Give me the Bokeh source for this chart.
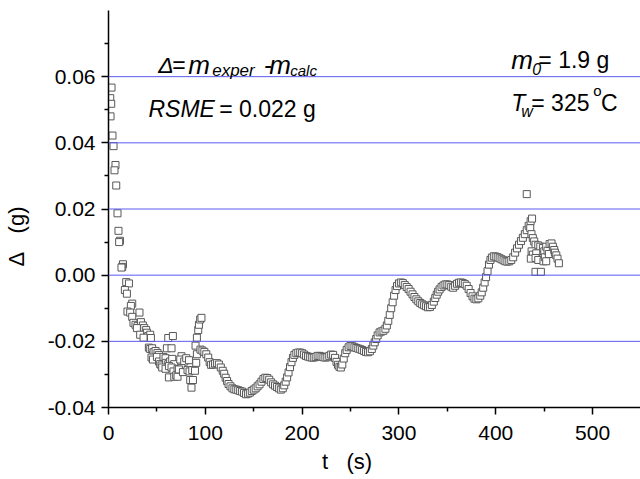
from bokeh.plotting import figure
from bokeh.models import Range1d, FixedTicker, PrintfTickFormatter, Label, ColumnDataSource, Span
from bokeh.embed import file_html
from bokeh.resources import INLINE

# ---- data ----
t_early = [3.1, 1.8, 2.8, 2.1, 4.1, 5.2, 7.2, 6.2, 8.0, 9.3, 10.3, 11.8, 11.0, 14.9, 14.2, 13.4,
           18.3, 21.1, 16.9, 19.0, 24.5, 23.1, 19.6, 22.4, 32.0, 24.5, 25.8, 27.9, 30.0, 33.5,
           35.5, 36.9, 38.9, 39.7, 41.0, 43.1, 43.8, 29.3, 32.7, 36.2]
d_early = [0.0567, 0.0535, 0.0518, 0.0480, 0.0422, 0.0390, 0.0333, 0.0317, 0.0271, 0.0187,
           0.0134, 0.0104, 0.0100, 0.0033, 0.0025, 0.0023, -0.0021, -0.0025, -0.0045, -0.0056,
           -0.0086, -0.0093, -0.0110, -0.0113, -0.0113, -0.0126, -0.0144, -0.0150, -0.0154,
           -0.0142, -0.0152, -0.0160, -0.0166, -0.0174, -0.0184, -0.0180, -0.0190, -0.0160,
           -0.0180, -0.0189]

t_mid = [41.7, 43.1, 45.1, 46.5, 48.6, 50.6, 52.1, 44.4, 45.9, 50.0, 52.1, 53.4, 54.8, 56.8,
         58.9, 60.3, 61.7, 66.5, 65.1, 59.6, 61.7, 63.7, 65.8, 67.9, 55.5, 58.9, 62.4, 65.1,
         67.1, 71.3, 62.4, 67.9, 69.9, 71.3, 75.4, 74.1, 78.2, 80.3, 83.1, 75.4, 72.7, 76.9,
         81.6, 83.7, 86.5, 84.4, 87.2, 85.7, 89.3, 90.6, 91.3, 89.9, 91.3, 92.7, 93.4, 94.7, 96.0]
d_mid = [-0.0219, -0.0223, -0.0221, -0.0233, -0.0229, -0.0235, -0.0241, -0.0249, -0.0255,
         -0.0247, -0.0261, -0.0269, -0.0273, -0.0247, -0.0251, -0.0221, -0.0190, -0.0184,
         -0.0221, -0.0265, -0.0269, -0.0261, -0.0253, -0.0269, -0.0279, -0.0283, -0.0275,
         -0.0279, -0.0291, -0.0283, -0.0309, -0.0307, -0.0303, -0.0307, -0.0245, -0.0255,
         -0.0261, -0.0251, -0.0257, -0.0281, -0.0285, -0.0293, -0.0287, -0.0291, -0.0287,
         -0.0317, -0.0317, -0.0340, -0.0289, -0.0265, -0.0239, -0.0213, -0.0189, -0.0166,
         -0.0150, -0.0134, -0.0129]

t_main = [95, 97, 99, 101, 103, 104.5, 106, 108, 110, 112, 114, 116, 118, 119.5, 121, 122.5,
          124, 126, 128, 130, 132, 134, 136, 138, 140, 142, 144, 146, 148, 150, 152, 154, 156,
          158, 160, 162, 164, 166, 168, 170, 172, 174, 176, 178, 180, 181.5, 183, 184.5, 186,
          187.5, 189, 190.5, 192, 194, 196, 198, 200, 202, 204, 206, 208, 210, 212, 214, 216,
          218, 220, 222, 224, 226, 228, 230, 232, 234, 235.5, 237, 238.5, 240, 241.5, 243,
          244.5, 246, 248, 250, 252, 254, 256, 258, 260, 262, 264, 266, 268, 270, 272, 273.5,
          275, 276.5, 278, 280, 282, 284, 286, 287.5, 289, 290.5, 292, 293.5, 295, 296.5, 298,
          300, 302, 304, 306, 308, 310, 312, 314, 316, 318, 320, 322, 324, 326, 328, 330, 332,
          334, 336, 337.5, 339, 340.5, 342, 344, 346, 348, 350, 352, 354, 356, 358, 360, 362,
          364, 366, 368, 370, 372, 374, 376, 378, 380, 382, 384, 385.5, 387, 388.5, 390, 391.5,
          393, 394.5, 396, 398, 400, 402, 404, 406, 408, 410, 412, 414, 416, 418, 420, 422,
          424, 426, 428, 430, 432, 434, 436, 437.5]
d_main = [-0.0225, -0.0228, -0.0232, -0.0239, -0.0249, -0.0263, -0.0271, -0.0270, -0.0267,
          -0.0266, -0.0270, -0.0279, -0.0289, -0.0298, -0.0310, -0.0320, -0.0329, -0.0336,
          -0.0342, -0.0345, -0.0346, -0.0348, -0.0350, -0.0352, -0.0356, -0.0360, -0.0358,
          -0.0355, -0.0350, -0.0346, -0.0342, -0.0336, -0.0330, -0.0322, -0.0314, -0.0310,
          -0.0311, -0.0316, -0.0324, -0.0330, -0.0334, -0.0338, -0.0342, -0.0346, -0.0342,
          -0.0333, -0.0322, -0.0309, -0.0294, -0.0278, -0.0263, -0.0250, -0.0241, -0.0236,
          -0.0234, -0.0234, -0.0236, -0.0240, -0.0244, -0.0246, -0.0248, -0.0249, -0.0249,
          -0.0247, -0.0244, -0.0244, -0.0246, -0.0248, -0.0249, -0.0248, -0.0244, -0.0240,
          -0.0241, -0.0250, -0.0262, -0.0271, -0.0277, -0.0279, -0.0270, -0.0252, -0.0236,
          -0.0226, -0.0218, -0.0214, -0.0215, -0.0218, -0.0220, -0.0222, -0.0224, -0.0226,
          -0.0229, -0.0232, -0.0233, -0.0230, -0.0223, -0.0213, -0.0203, -0.0193, -0.0182,
          -0.0173, -0.0170, -0.0168, -0.0162, -0.0152, -0.0138, -0.0120, -0.0100, -0.0082,
          -0.0062, -0.0045, -0.0033, -0.0025, -0.0022, -0.0024, -0.0030, -0.0036, -0.0042,
          -0.0050, -0.0058, -0.0066, -0.0073, -0.0079, -0.0084, -0.0088, -0.0091, -0.0094,
          -0.0097, -0.0096, -0.0090, -0.0080, -0.0069, -0.0059, -0.0050, -0.0043, -0.0036,
          -0.0031, -0.0028, -0.0028, -0.0030, -0.0035, -0.0038, -0.0032, -0.0026, -0.0023,
          -0.0022, -0.0024, -0.0027, -0.0032, -0.0042, -0.0054, -0.0064, -0.0071, -0.0073,
          -0.0070, -0.0062, -0.0052, -0.0038, -0.0022, -0.0006, 0.0012, 0.0032, 0.0046,
          0.0053, 0.0057, 0.0056, 0.0054, 0.0051, 0.0048, 0.0045, 0.0042, 0.0041, 0.0042,
          0.0046, 0.0054, 0.0068, 0.0081, 0.0092, 0.0103, 0.0113, 0.0124, 0.0136, 0.0149,
          0.0163, 0.0171]

t_end = [432, 435.6, 436.9, 438.3, 439.7, 441.1, 443.9, 446.0, 448.7, 450.1, 448.0, 446.0,
         437.0, 438.3, 436.2, 441.8, 441.1, 443.9, 441.0, 446.6, 449.3, 450.7, 452.1, 453.5,
         454.9, 452.1, 455.6, 457.6, 459.0, 460.4, 461.1, 462.5, 463.8, 465.2]
d_end = [0.0245, 0.0142, 0.0124, 0.0112, 0.0102, 0.0092, 0.0090, 0.0086, 0.0082, 0.0072,
         0.0052, 0.0046, 0.0072, 0.0062, 0.0050, 0.0066, 0.0052, 0.0046, 0.0010, 0.0010,
         0.0042, 0.0054, 0.0086, 0.0074, 0.0064, 0.0042, 0.0094, 0.0096, 0.0086, 0.0076,
         0.0068, 0.0060, 0.0050, 0.0036]

x_ticks = [0, 100, 200, 300, 400, 500]
x_minor = [50, 150, 250, 350, 450]
y_ticks = [-0.04, -0.02, 0.0, 0.02, 0.04, 0.06]
y_minor = [-0.03, -0.01, 0.01, 0.03, 0.05, 0.07]
grid_levels = [-0.02, 0.0, 0.02, 0.04, 0.06]

assert len(t_early) == len(d_early)
assert len(t_mid) == len(d_mid)
assert len(t_main) == len(d_main)
assert len(t_end) == len(d_end)

t_all = t_early + t_mid + t_main + t_end
d_all = d_early + d_mid + d_main + d_end

FONT = "Liberation Sans"
NB = "\u00a0"

p = figure(frame_width=532, frame_height=397,
           x_range=Range1d(0, 549.5), y_range=Range1d(-0.04, 0.08),
           output_backend="svg", toolbar_location=None,
           min_border_left=108, min_border_right=0, min_border_top=10, min_border_bottom=72,
           background_fill_color="white", border_fill_color="white")
p.outline_line_color = None
p.xgrid.visible = False
p.ygrid.visible = False

for lvl in grid_levels:
    p.add_layout(Span(location=lvl, dimension="width", line_color="#5a5af0", line_width=1))

for ax in (p.xaxis[0], p.yaxis[0]):
    ax.axis_line_color = "black"
    ax.axis_line_width = 1.5
    ax.major_tick_line_color = "black"
    ax.major_tick_line_width = 1.5
    ax.minor_tick_line_color = "black"
    ax.minor_tick_line_width = 1.5
    ax.major_tick_in = 0
    ax.major_tick_out = 7
    ax.minor_tick_in = 0
    ax.minor_tick_out = 4
    ax.major_label_text_font = FONT
    ax.major_label_text_font_size = "21px"
    ax.major_label_text_color = "black"
    ax.axis_label_text_font = FONT
    ax.axis_label_text_font_size = "22px"
    ax.axis_label_text_font_style = "normal"
    ax.axis_label_text_color = "black"

p.xaxis.ticker = FixedTicker(ticks=x_ticks, minor_ticks=x_minor)
p.yaxis.ticker = FixedTicker(ticks=y_ticks, minor_ticks=y_minor)
p.yaxis.formatter = PrintfTickFormatter(format="%.2f")
p.xaxis.major_label_standoff = 11
p.yaxis.major_label_standoff = 6

# axis titles (trailing no-break spaces shift the visible text as in the reference)
p.xaxis.axis_label = "t" + NB * 3 + "(s)" + NB * 9
p.xaxis.axis_label_standoff = 6
p.yaxis.axis_label = "Δ" + NB * 3 + "(g)" + NB * 9
p.yaxis.axis_label_standoff = 16

src = ColumnDataSource(dict(t=t_all, d=d_all))
p.scatter("t", "d", source=src, marker="square", size=7,
          line_color="#585858", line_width=1, fill_color="white")


def lab(x, y, text, size=23, italic=False):
    p.add_layout(Label(x=x, y=y, text=text, text_font=FONT,
                       text_font_size=f"{size}px",
                       text_font_style="italic" if italic else "normal",
                       text_color="black", text_baseline="alphabetic",
                       text_align="left"))


# formula  Δ = m_exper - m_calc
lab(51.3, 0.0636, "Δ", italic=True)
lab(65.8, 0.0636, "=")
lab(82.3, 0.0636, "m", size=26, italic=True)
lab(107.1, 0.0620, "exper", size=17, italic=True)
lab(160.5, 0.0636, "-", italic=True)
lab(166.0, 0.0636, "m", size=26, italic=True)
lab(187.7, 0.0620, "calc", size=15, italic=True)

# RSME
lab(41.3, 0.0502, "RSME", italic=True)
lab(114.4, 0.0502, "= 0.022 g")

# m0
lab(416.0, 0.0649, "m", size=26, italic=True)
lab(437.7, 0.0623, "0", size=16, italic=True)
lab(444.0, 0.0649, "= 1.9 g")

# Tw
lab(416.0, 0.0521, "T", italic=True)
lab(426.3, 0.0496, "w", size=16, italic=True)
lab(436.7, 0.0521, "= 325")
lab(500.7, 0.0557, "o", size=15)
lab(508.8, 0.0521, "C")

open("out.html", "w").write(file_html(p, INLINE))
